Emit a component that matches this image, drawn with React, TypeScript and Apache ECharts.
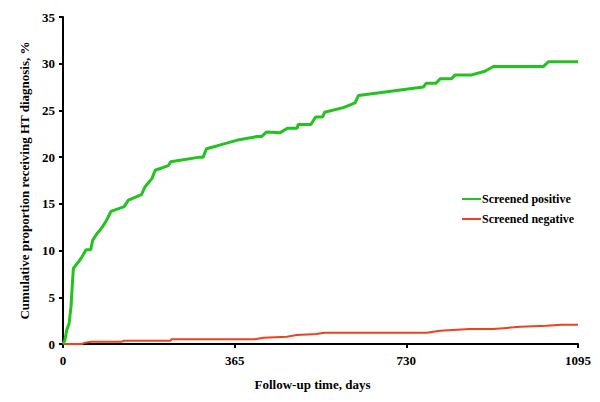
import React, { useEffect, useRef } from "react";
import * as echarts from "echarts";

const xTicks = [0, 365, 730, 1095];
const seriesNames = ["Screened positive", "Screened negative"];

const positiveDays = [0, 4, 8, 13, 17, 22, 33, 40, 49, 59, 63, 72, 82, 91, 102, 130, 139, 167, 174, 189, 196, 224, 229, 291, 298, 305, 327, 369, 412, 422, 433, 461, 477, 498, 500, 527, 537, 552, 556, 596, 621, 628, 766, 772, 793, 802, 826, 834, 869, 897, 915, 1021, 1032, 1095];
const positiveValues = [0, 0.4, 1.5, 2.2, 4.0, 8.1, 8.8, 9.3, 10.1, 10.1, 11.1, 11.8, 12.4, 13.1, 14.2, 14.7, 15.4, 16.0, 16.8, 17.7, 18.6, 19.1, 19.5, 20.0, 20.0, 20.9, 21.2, 21.8, 22.2, 22.2, 22.7, 22.6, 23.1, 23.1, 23.5, 23.5, 24.3, 24.3, 24.8, 25.3, 25.8, 26.6, 27.5, 27.9, 27.9, 28.4, 28.4, 28.8, 28.8, 29.2, 29.7, 29.7, 30.2, 30.2];

const negativeDays = [0, 40, 47, 61, 125, 130, 228, 231, 291, 408, 426, 476, 497, 539, 555, 773, 802, 865, 915, 958, 972, 1028, 1060, 1095];
const negativeValues = [0, 0, 0.14, 0.25, 0.25, 0.35, 0.35, 0.5, 0.5, 0.5, 0.68, 0.78, 0.96, 1.07, 1.21, 1.21, 1.43, 1.6, 1.6, 1.78, 1.85, 1.96, 2.05, 2.05];

const font = "'Liberation Serif', 'Times New Roman', serif";

export default function App() {
  const ref = useRef<HTMLDivElement>(null);
  useEffect(() => {
    if (!ref.current) return;
    const chart = echarts.init(ref.current, undefined, { renderer: "svg" });
    const pos = positiveDays.map((d, i) => [d, positiveValues[i]]);
    const neg = negativeDays.map((d, i) => [d, negativeValues[i]]);
    chart.setOption({
      animation: false,
      backgroundColor: "#ffffff",
      grid: { left: 63, right: 22, top: 17, bottom: 58 },
      legend: {
        data: seriesNames,
        orient: "vertical",
        left: 457,
        top: 188,
        icon: "rect",
        itemWidth: 19,
        itemHeight: 2,
        itemGap: 8,
        textStyle: { fontFamily: font, fontWeight: "bold", fontSize: 12, color: "#000", padding: [0, 0, 0, -4] },
      },
      xAxis: {
        type: "value",
        min: 0,
        max: 1095,
        interval: 365,
        name: "Follow-up time, days",
        nameLocation: "middle",
        nameGap: 34,
        nameTextStyle: { fontFamily: font, fontWeight: "bold", fontSize: 13, color: "#000", padding: [0, 16, 0, 0] },
        axisLine: { show: true, onZero: false, lineStyle: { color: "#000", width: 2 } },
        axisTick: { show: true, length: 4, inside: false, lineStyle: { color: "#000", width: 2 } },
        axisLabel: {
          margin: 10,
          fontFamily: font,
          fontWeight: "bold",
          fontSize: 13,
          color: "#000",
          formatter: (v: number) => (xTicks.includes(v) ? String(v) : ""),
        },
        splitLine: { show: false },
      },
      yAxis: {
        type: "value",
        min: 0,
        max: 35,
        interval: 5,
        name: "Cumulative proportion receiving HT diagnosis, %",
        nameLocation: "middle",
        nameGap: 32,
        nameTextStyle: { fontFamily: font, fontWeight: "bold", fontSize: 13, color: "#000" },
        axisLine: { show: true, lineStyle: { color: "#000", width: 2 } },
        axisTick: { show: true, length: 4, inside: false, lineStyle: { color: "#000", width: 2 } },
        axisLabel: { margin: 8, fontFamily: font, fontWeight: "bold", fontSize: 13, color: "#000" },
        splitLine: { show: false },
      },
      series: [
        {
          name: seriesNames[0],
          type: "line",
          data: pos,
          showSymbol: false,
          symbol: "none",
          color: "#22c31e",
          lineStyle: { color: "#22c31e", width: 3 },
          z: 3,
        },
        {
          name: seriesNames[1],
          type: "line",
          data: neg,
          showSymbol: false,
          symbol: "none",
          color: "#f0401e",
          lineStyle: { color: "#f0401e", width: 2 },
          z: 2,
        },
      ],
    });
    return () => chart.dispose();
  }, []);
  return <div ref={ref} style={{ width: 600, height: 402, position: "absolute", left: 0, top: 0 }} />;
}
